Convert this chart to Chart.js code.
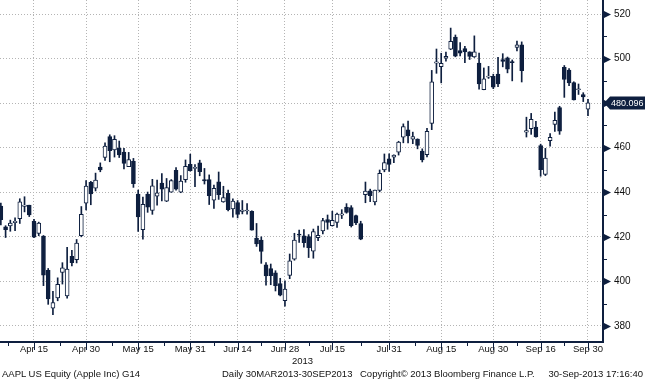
<!DOCTYPE html>
<html><head><meta charset="utf-8">
<script src="https://cdn.jsdelivr.net/npm/chart.js@4.4.0/dist/chart.umd.min.js"></script>
<style>
html,body{margin:0;padding:0;background:#fff;}
#wrap{position:relative;width:645px;height:380px;overflow:hidden;font-family:"Liberation Sans",Arial,sans-serif;color:#111;}
canvas{position:absolute;left:0;top:0;}
.t{position:absolute;font-size:9.5px;white-space:nowrap;line-height:10px;}
</style></head><body>
<div id="wrap"><canvas id="c" width="645" height="380"></canvas>
<div class="t" style="left:292px;top:356px">2013</div>
<div class="t" style="left:2px;top:369px">AAPL US Equity (Apple Inc) G14</div>
<div class="t" style="left:222px;top:369px">Daily 30MAR2013-30SEP2013</div>
<div class="t" style="left:360px;top:369px">Copyright© 2013 Bloomberg Finance L.P.</div>
<div class="t" style="right:2px;top:369px">30-Sep-2013 17:16:40</div>
</div>
<script>
const dates = ['Apr 4','Apr 5','Apr 8','Apr 9','Apr 10','Apr 11','Apr 12','Apr 15','Apr 16','Apr 17','Apr 18','Apr 19','Apr 22','Apr 23','Apr 24','Apr 25','Apr 26','Apr 29','Apr 30',
'May 1','May 2','May 3','May 6','May 7','May 8','May 9','May 10','May 13','May 14','May 15','May 16','May 17','May 20','May 21','May 22','May 23','May 24','May 28','May 29','May 30','May 31',
'Jun 3','Jun 4','Jun 5','Jun 6','Jun 7','Jun 10','Jun 11','Jun 12','Jun 13','Jun 14','Jun 17','Jun 18','Jun 19','Jun 20','Jun 21','Jun 24','Jun 25','Jun 26','Jun 27','Jun 28',
'Jul 1','Jul 2','Jul 3','Jul 5','Jul 8','Jul 9','Jul 10','Jul 11','Jul 12','Jul 15','Jul 16','Jul 17','Jul 18','Jul 19','Jul 22','Jul 23','Jul 24','Jul 25','Jul 26','Jul 29','Jul 30','Jul 31',
'Aug 1','Aug 2','Aug 5','Aug 6','Aug 7','Aug 8','Aug 9','Aug 12','Aug 13','Aug 14','Aug 15','Aug 16','Aug 19','Aug 20','Aug 21','Aug 22','Aug 23','Aug 26','Aug 27','Aug 28','Aug 29','Aug 30',
'Sep 3','Sep 4','Sep 5','Sep 6','Sep 9','Sep 10','Sep 11','Sep 12','Sep 13','Sep 16','Sep 17','Sep 18','Sep 19','Sep 20','Sep 23','Sep 24','Sep 25','Sep 26','Sep 27','Sep 30'];

const openPrices = [433.8,424.5,424.9,426.4,428.1,433.7,434.2,427.0,421.5,420.3,405.0,388.0,392.6,404.0,393.5,411.2,409.8,420.5,435.1,
444.5,441.8,451.3,455.7,465.0,459.0,459.8,458.0,451.5,453.9,439.2,423.2,439.1,431.9,438.2,444.1,436.0,440.0,449.9,440.0,445.7,452.5,
450.7,453.2,445.7,445.7,436.5,444.7,435.7,439.5,432.5,435.4,431.4,431.6,431.4,419.3,418.5,407.4,405.7,403.9,399.0,391.4,
402.7,410.0,420.9,420.4,420.1,413.6,419.6,422.7,427.7,425.0,426.5,429.7,433.4,433.1,429.5,426.0,438.9,440.7,435.7,440.8,450.0,455.0,
455.8,458.0,464.7,468.0,463.8,463.9,458.5,456.9,470.9,497.9,496.4,500.2,504.2,509.7,503.6,504.5,503.0,500.8,498.0,486.0,491.7,492.0,
493.1,499.6,500.3,498.4,505.0,506.2,467.0,468.5,469.3,461.0,448.0,463.2,470.5,478.0,496.1,494.9,489.2,486.0,483.8,477.3];

const highPrices = [435.2,425.0,427.5,428.5,437.1,438.0,434.2,427.9,426.6,420.6,405.8,395.5,401.6,408.4,415.3,413.9,418.8,433.6,445.3,
444.9,448.6,453.2,462.2,465.8,465.4,463.0,459.7,457.9,455.2,441.0,437.9,440.1,445.8,445.5,448.4,446.2,445.7,451.1,447.5,454.5,457.1,
452.4,454.4,450.7,447.8,443.2,449.1,442.7,441.0,437.1,436.3,436.3,434.9,431.7,426.0,420.0,408.4,407.8,404.8,401.4,400.3,
412.3,421.6,423.0,423.3,421.0,423.5,424.8,428.3,429.8,431.5,430.7,432.2,434.9,434.0,429.8,427.0,444.6,441.4,441.0,450.0,457.2,457.3,
456.8,462.9,470.7,471.9,467.0,464.0,459.5,468.7,494.7,504.3,502.4,502.9,513.7,510.6,507.2,505.5,503.1,510.2,502.5,495.8,496.5,493.0,
500.6,502.2,500.7,499.4,507.9,507.5,473.7,475.4,471.8,461.6,459.7,466.4,476.0,478.6,496.9,495.5,489.6,488.6,484.7,481.7];

const lowPrices = [425.3,419.7,422.5,422.8,426.0,431.2,429.1,419.6,420.5,398.1,389.7,385.1,391.3,398.8,392.5,407.0,408.3,420.0,432.1,
434.4,440.6,449.2,454.3,453.7,455.8,455.6,450.5,451.5,442.2,422.4,418.9,431.0,430.1,434.2,436.1,435.8,440.0,440.9,439.8,444.5,449.5,
442.5,447.4,443.7,434.5,432.8,436.8,435.5,431.6,428.8,428.5,430.3,430.2,423.0,415.7,408.1,398.3,398.5,395.7,393.5,388.9,
401.2,409.5,417.5,415.4,410.7,410.4,418.3,421.3,423.4,424.8,424.2,428.2,430.6,424.4,425.5,418.7,435.3,435.8,434.3,440.2,449.2,449.4,
453.3,456.7,462.2,462.2,461.8,459.5,453.6,455.9,468.1,493.4,489.1,498.9,504.0,500.8,501.2,498.2,499.6,500.5,486.3,486.0,491.1,486.5,
487.4,496.3,493.6,490.0,503.5,489.5,464.8,466.0,464.7,447.2,447.5,460.7,467.3,466.0,482.6,487.8,481.4,483.9,480.7,474.4];

const closePrices = [427.7,423.2,426.2,427.0,435.7,434.3,429.8,419.9,426.2,402.8,392.1,390.5,398.7,406.1,405.5,408.4,417.2,430.1,442.8,
439.3,445.5,450.0,460.7,458.7,463.8,456.8,453.0,454.7,443.9,428.9,434.6,433.3,442.9,439.7,441.4,442.1,445.2,441.4,445.0,451.6,449.7,
450.7,449.3,445.1,438.5,441.8,438.9,437.6,432.2,436.0,430.1,432.0,431.8,423.0,416.8,413.5,402.5,402.6,398.1,393.8,396.5,
409.2,418.5,420.8,417.4,415.1,422.4,420.7,427.3,426.5,427.4,430.2,430.3,431.0,425.0,426.3,419.0,440.5,438.5,441.0,448.5,453.3,452.5,
456.7,462.5,469.5,465.3,465.0,461.0,454.5,467.4,489.6,498.5,497.9,501.0,507.7,501.1,502.4,503.0,501.0,503.0,488.6,490.9,491.7,487.2,
488.6,498.7,495.3,498.2,506.2,494.6,467.7,472.7,464.9,450.1,455.3,464.7,472.3,467.4,490.6,489.1,481.5,486.2,482.8,480.096];

const tickLabels = ['Apr 15','Apr 30','May 15','May 31','Jun 14','Jun 28','Jul 15','Jul 31','Aug 15','Aug 30','Sep 16','Sep 30'];
const yTickValues = [380,390,400,410,420,430,440,450,460,470,480,490,500,510,520];
const yLabelStep = 20;
const lastValueLabel = '480.096';

const NAVY = '#0e1f3f';
const GRID = '#b4b4b4';
const FONT = '"Liberation Sans", Arial, sans-serif';

const majorPos = tickLabels.map(l => dates.indexOf(l));
const minorPos = [majorPos[0] - (majorPos[1]-majorPos[0])/2];
for (let i = 0; i < majorPos.length - 1; i++) minorPos.push((majorPos[i] + majorPos[i+1]) / 2);
const allTicks = majorPos.concat(minorPos).sort((a,b)=>a-b);
const labelAt = {};
majorPos.forEach((p,i) => labelAt[p] = tickLabels[i]);

const bodies = dates.map((d,i) => ({x: i, y: [openPrices[i], closePrices[i]]}));
const wicks = dates.map((d,i) => ({x: i, y: [lowPrices[i], highPrices[i]]}));

const decor = {
  id: 'decor',
  afterDraw(chart) {
    const ctx = chart.ctx, xs = chart.scales.x, ys = chart.scales.y;
    const ax = ys.left, ay = xs.top;
    ctx.save();
    ctx.fillStyle = NAVY; ctx.strokeStyle = NAVY; ctx.lineWidth = 1;
    yTickValues.forEach(v => {
      const y = Math.round(ys.getPixelForValue(v)) + 0.5;
      if (v % yLabelStep === 0) {
        ctx.beginPath(); ctx.moveTo(ax + 1, y - 3.5); ctx.lineTo(ax + 8, y); ctx.lineTo(ax + 1, y + 3.5); ctx.closePath(); ctx.fill();
      } else {
        ctx.beginPath(); ctx.moveTo(ax, y); ctx.lineTo(ax + 4, y); ctx.stroke();
      }
    });
    allTicks.forEach(v => {
      const x = Math.round(xs.getPixelForValue(v)) + 0.5;
      const len = labelAt[v] ? 8 : 4;
      ctx.beginPath(); ctx.moveTo(x, ay); ctx.lineTo(x, ay + len); ctx.stroke();
    });
    const last = closePrices[closePrices.length - 1];
    const ty = ys.getPixelForValue(last);
    const x0 = ax + 1, x1 = ax + 7, x2 = chart.width;
    ctx.beginPath();
    ctx.moveTo(x0, ty); ctx.lineTo(x1, ty - 6.5); ctx.lineTo(x2, ty - 6.5); ctx.lineTo(x2, ty + 6.5); ctx.lineTo(x1, ty + 6.5); ctx.closePath();
    ctx.fill();
    ctx.fillStyle = '#fff'; ctx.font = '9px ' + FONT; ctx.textBaseline = 'middle'; ctx.textAlign = 'left';
    ctx.fillText(lastValueLabel, x1 + 1, ty + 0.5);
    ctx.restore();
  }
};

new Chart(document.getElementById('c'), {
  type: 'bar',
  data: {
    datasets: [
      { label: 'body', data: bodies, order: 1, grouped: false, barThickness: 4, minBarLength: 1,
        backgroundColor: c => closePrices[c.dataIndex] >= openPrices[c.dataIndex] ? '#ffffff' : NAVY,
        borderColor: NAVY, borderWidth: 1, borderSkipped: false },
      { label: 'wick', data: wicks, order: 2, grouped: false, barThickness: 1,
        backgroundColor: NAVY, borderWidth: 0 }
    ]
  },
  options: {
    responsive: false, animation: false, events: [],
    layout: { padding: 0, autoPadding: false },
    plugins: { legend: { display: false }, tooltip: { enabled: false } },
    scales: {
      x: {
        type: 'linear', min: -0.18, max: 127.17, offset: false,
        afterBuildTicks: s => { s.ticks = allTicks.map(v => ({ value: v })); },
        afterFit: s => { s.height = 38; s.paddingLeft = 0; s.paddingRight = 0; },
        ticks: { autoSkip: false, maxRotation: 0, padding: 2, color: '#111',
          font: { family: FONT, size: 9.5 }, callback: v => labelAt[v] || '' },
        grid: { offset: false, drawTicks: false, lineWidth: 1,
          color: c => (c.tick && labelAt[c.tick.value]) ? GRID : 'rgba(0,0,0,0)' },
        border: { display: true, color: NAVY, width: 2, dash: [1, 2] }
      },
      y: {
        type: 'linear', position: 'right', min: 372.8, max: 526.3,
        afterBuildTicks: s => { s.ticks = yTickValues.map(v => ({ value: v })); },
        afterFit: s => { s.width = 42; s.paddingTop = 0; s.paddingBottom = 0; },
        ticks: { padding: 11, color: '#111', font: { family: FONT, size: 10 },
          callback: v => (v % yLabelStep === 0 ? String(v) : '') },
        grid: { drawTicks: false, lineWidth: 1,
          color: c => (c.tick && c.tick.value % yLabelStep === 0) ? GRID : 'rgba(0,0,0,0)' },
        border: { display: true, color: NAVY, width: 2, dash: [1, 2] }
      }
    }
  },
  plugins: [decor]
});
</script>
</body></html>
